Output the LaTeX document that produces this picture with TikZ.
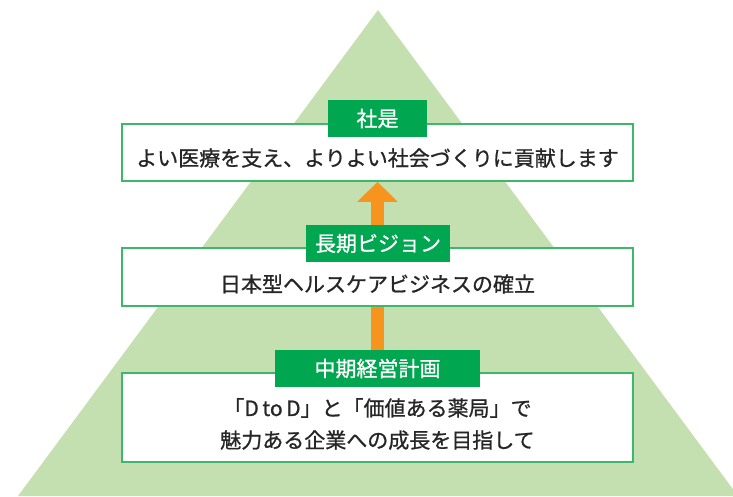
\documentclass[tikz,border=0pt]{standalone}
\usepackage{fontspec}
\newfontfamily\jp{Noto Sans CJK JP}[FakeBold=0.9]
\usetikzlibrary{arrows.meta}
\definecolor{tri}{HTML}{C5E0B0}
\definecolor{boxline}{HTML}{3DB86A}
\definecolor{labfill}{HTML}{00A650}
\definecolor{arr}{HTML}{F7941D}
\pgfdeclarelayer{bg}
\pgfsetlayers{bg,main}
\tikzset{
  box/.style={draw=boxline, line width=1.5pt, fill=white, inner sep=0pt, minimum width=511pt},
  lab/.style={fill=labfill, text=white, inner sep=0pt, minimum height=37pt, font=\jp\fontsize{21}{24}\selectfont},
  body/.style={inner sep=0pt, text=black!85, font=\jp\fontsize{21}{32}\selectfont, align=center},
}
\begin{document}
\begin{tikzpicture}[x=1pt,y=-1pt]
\useasboundingbox (0,0) rectangle (733,496);
\begin{pgfonlayer}{bg}
\clip (0,0) rectangle (733,496);
\fill[tri] (378,10) -- (738,496) -- (18,496) -- cycle;
\end{pgfonlayer}
\node[box, minimum height=57pt] (b1) at (377.5,152.5) {};
\node[box, minimum height=58pt] (b2) at (377.5,277) {};
\node[box, minimum height=89pt] (b3) at (377.5,417.5) {};
\node[lab, minimum width=99pt] (l1) at (377.5,118.5) {社是};
\node[lab, minimum width=144pt] (l2) at (378,243.5) {長期ビジョン};
\node[lab, minimum width=205pt] (l3) at (377.5,368.5) {中期経営計画};
\node[body] (t1) at (377.5,158) {よい医療を支え、よりよい社会づくりに貢献します};
\node[body] (t2) at (377.5,284) {日本型ヘルスケアビジネスの確立};
\node[body] (t3) at (377.5,424) {「D\,to\,D」と「価値ある薬局」で\\魅力ある企業への成長を目指して};
\begin{pgfonlayer}{bg}
\draw[arr, line width=13pt, -{Triangle[width=39pt,length=20pt]}] (l3.north) -- (b1.south);
\end{pgfonlayer}
\end{tikzpicture}
\end{document}
